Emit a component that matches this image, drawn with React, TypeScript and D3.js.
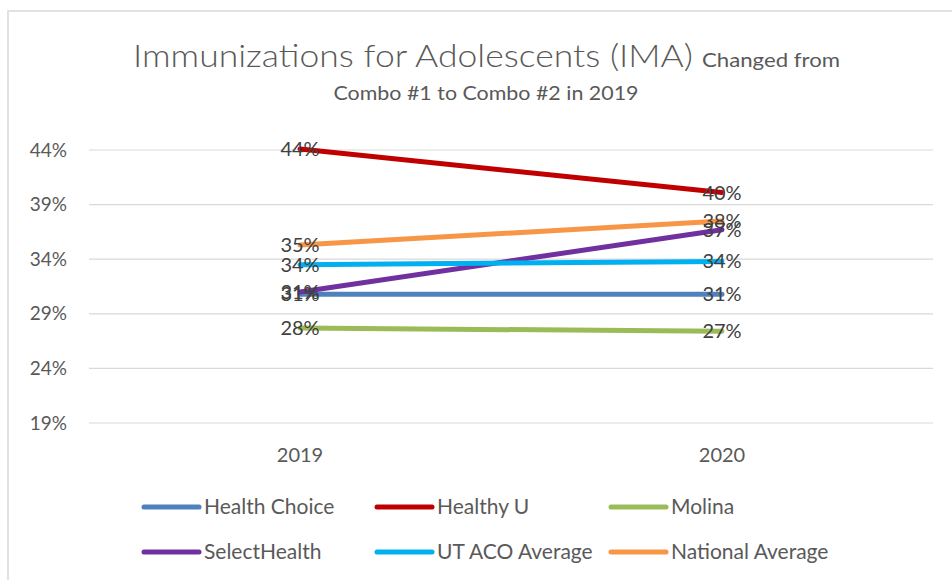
import React from "react";
import * as d3 from "d3";

const categories = ["2019", "2020"];
const seriesNames = ["Health Choice", "Healthy U", "Molina", "SelectHealth", "UT ACO Average", "National Average"];
const healthChoice = [30.8, 30.8];
const healthyU = [44.1, 40.1];
const molina = [27.7, 27.4];
const selectHealth = [31.0, 36.7];
const utAco = [33.5, 33.8];
const nationalAvg = [35.3, 37.5];
const seriesColors = ["#4F81BD", "#C00000", "#9BBB59", "#7030A0", "#00B0F0", "#F79646"];
const yTicks = [19, 24, 29, 34, 39, 44];

const seriesValues = [healthChoice, healthyU, molina, selectHealth, utAco, nationalAvg];

const W = 952;
const H = 580;
const FONT = "Lato, 'Open Sans', sans-serif";

export default function App() {
  const x = d3.scaleBand<string>().domain(categories).range([89, 933]);
  const y = d3.scaleLinear().domain([19, 44]).range([423, 150]);
  const cx = (c: string) => (x(c) as number) + x.bandwidth() / 2;
  const line = d3
    .line<[string, number]>()
    .x((d) => cx(d[0]))
    .y((d) => y(d[1]));

  const legendX = [144, 377, 611];
  const legendY = [507, 552];

  return (
    <svg width={W} height={H} style={{ position: "absolute", left: 0, top: 0, background: "#fff" }} fontFamily={FONT}>
      <rect x={8} y={11} width={1000} height={700} fill="#fff" stroke="#d9d9d9" strokeWidth={1.5} />
      <text x={133} y={67} fontSize={32} fill="#595959" textLength={560} lengthAdjust="spacingAndGlyphs" fontWeight={300}>
        Immunizations for Adolescents (IMA)
      </text>
      <text x={702} y={67} fontSize={19} fill="#595959" textLength={138} lengthAdjust="spacingAndGlyphs">
        Changed from
      </text>
      <text x={486} y={100} fontSize={19} fill="#595959" textAnchor="middle" textLength={305} lengthAdjust="spacingAndGlyphs">
        Combo #1 to Combo #2 in 2019
      </text>
      {yTicks.map((t) => (
        <g key={t}>
          <line x1={89} x2={933} y1={y(t)} y2={y(t)} stroke="#d9d9d9" strokeWidth={1.2} />
          <text x={67} y={y(t)} dy="0.35em" fontSize={19} fill="#595959" textAnchor="end">
            {t}%
          </text>
        </g>
      ))}
      {categories.map((c) => (
        <text key={c} x={cx(c)} y={455} dy="0.35em" fontSize={20} fill="#595959" textAnchor="middle">
          {c}
        </text>
      ))}
      {seriesValues.map((vals, i) => (
        <path
          key={seriesNames[i]}
          d={line(categories.map((c, j) => [c, vals[j]] as [string, number])) as string}
          fill="none"
          stroke={seriesColors[i]}
          strokeWidth={5}
          strokeLinecap="round"
        />
      ))}
      {seriesValues.map((vals, i) =>
        categories.map((c, j) => (
          <text
            key={seriesNames[i] + c}
            x={cx(c)}
            y={y(vals[j])}
            dy="0.35em"
            fontSize={20}
            fill="#404040"
            textAnchor="middle"
          >
            {Math.round(vals[j])}%
          </text>
        ))
      )}
      {seriesNames.map((n, i) => {
        const lx = legendX[i % 3];
        const ly = legendY[Math.floor(i / 3)];
        return (
          <g key={n}>
            <line x1={lx} x2={lx + 55} y1={ly} y2={ly} stroke={seriesColors[i]} strokeWidth={5} strokeLinecap="round" />
            <text x={lx + 60} y={ly} dy="0.35em" fontSize={21} fill="#595959">
              {n}
            </text>
          </g>
        );
      })}
    </svg>
  );
}
